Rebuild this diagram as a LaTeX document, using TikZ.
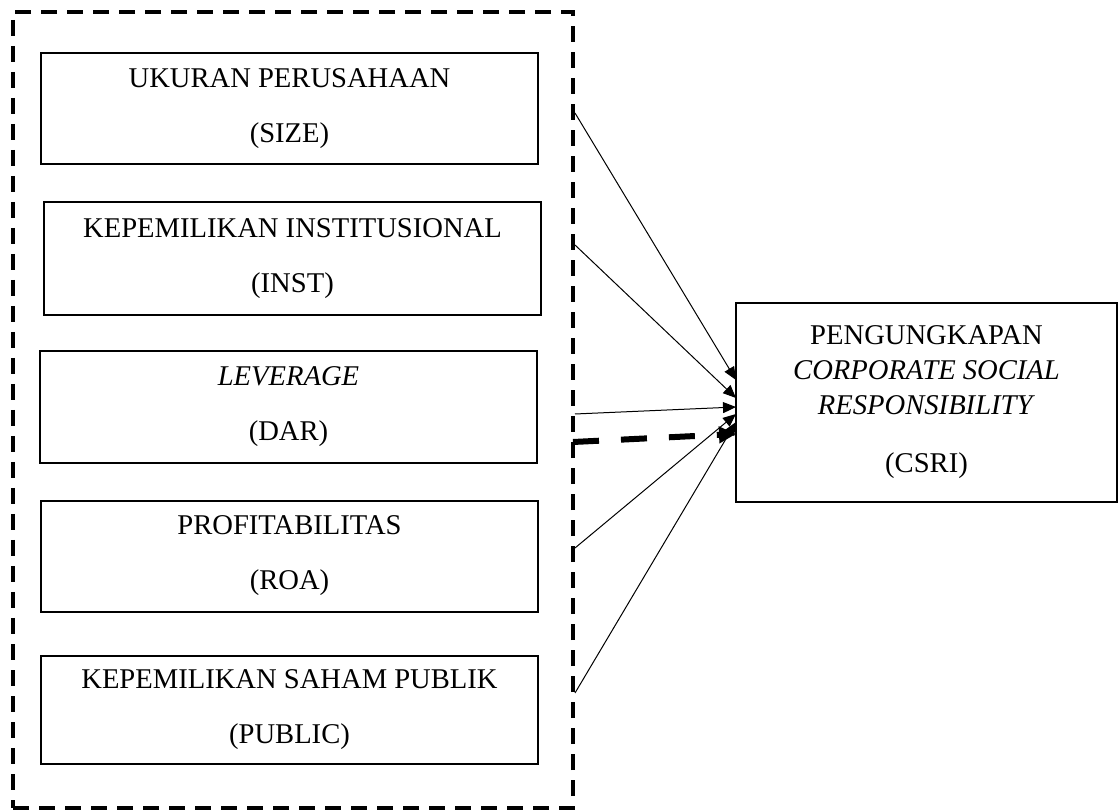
\documentclass[tikz,border=0pt]{standalone}
\usepackage{fontspec}
\setmainfont{Liberation Serif}
\usetikzlibrary{arrows.meta}
\begin{document}
\begin{tikzpicture}[x=0.5pt,y=-0.5pt,
  varbox/.style={draw, line width=1pt, inner sep=0pt, align=center,
    font=\fontsize{14.3}{27.5}\selectfont},
  grpbox/.style={draw, line width=1.8pt, dash pattern=on 8pt off 5pt, inner sep=0pt},
  thinarrow/.style={line width=0.5pt, -{Triangle[length=6.5pt,width=5.5pt]}},
  thickarrow/.style={line width=3pt, dash pattern=on 13pt off 11pt, -{Triangle[length=8.5pt,width=8pt]}}]
\useasboundingbox (0,0) rectangle (1119,812);
% dashed group
\node[grpbox, minimum width=280pt, minimum height=398pt] (grp) at (293,410) {};
% variable boxes
\node[varbox, minimum width=248.5pt, minimum height=55.5pt] (size) at (289.5,108.5) {UKURAN PERUSAHAAN\\(SIZE)};
\node[varbox, minimum width=248.5pt, minimum height=56.5pt] (inst) at (292.5,259) {KEPEMILIKAN INSTITUSIONAL\\(INST)};
\node[varbox, minimum width=248.5pt, minimum height=56pt] (dar) at (288.5,407) {\textit{LEVERAGE}\\(DAR)};
\node[varbox, minimum width=248.5pt, minimum height=55.5pt] (roa) at (289.5,556) {PROFITABILITAS\\(ROA)};
\node[varbox, minimum width=248.5pt, minimum height=54pt] (pub) at (289.5,710) {KEPEMILIKAN SAHAM PUBLIK\\(PUBLIC)};
% dependent box
\node[varbox, minimum width=190.5pt, minimum height=99.5pt,
  font=\fontsize{14.3}{17.5}\selectfont] (csr) at (926.5,402.5)
  {PENGUNGKAPAN\\\textit{CORPORATE SOCIAL}\\\textit{RESPONSIBILITY}\\[11.5pt](CSRI)};
% connector end points
\coordinate (s1) at (575,113);
\coordinate (s2) at (575,245);
\coordinate (s3) at (575,414);
\coordinate (s4) at (575,548);
\coordinate (s5) at (575,693);
\coordinate (sd) at (573,442);
\coordinate (t1) at (736,380);
\coordinate (t2) at (736,398);
\coordinate (t3) at (736,407);
\coordinate (t4) at (736,414);
\coordinate (t5) at (736,422);
\coordinate (td) at (736,434);
\draw[thinarrow] (s1) -- (t1);
\draw[thinarrow] (s2) -- (t2);
\draw[thinarrow] (s3) -- (t3);
\draw[thinarrow] (s4) -- (t4);
\draw[thinarrow] (s5) -- (t5);
\draw[thickarrow] (sd) -- (td);
\end{tikzpicture}
\end{document}
